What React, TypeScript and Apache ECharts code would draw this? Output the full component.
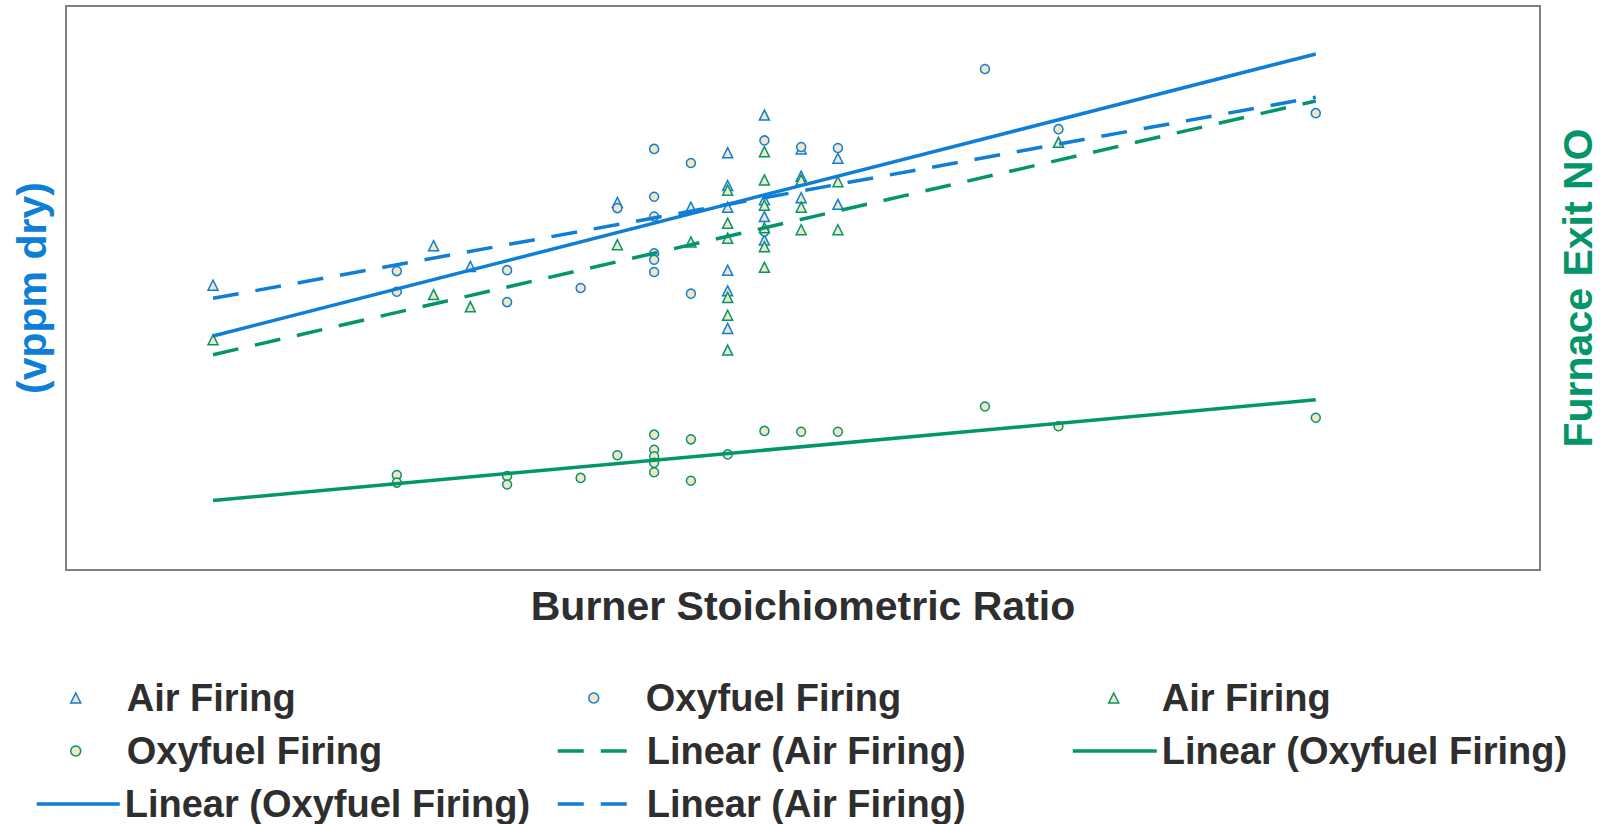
import React, { useEffect, useRef } from "react";
import * as echarts from "echarts";

// ---- data (x: burner stoichiometric ratio, y: furnace exit NO) ----
const blueAirFiring: [number, number][] = [
  [0.70, 303], [0.76, 345], [0.77, 323], [0.81, 391], [0.83, 386],
  [0.84, 444], [0.84, 409], [0.84, 386], [0.84, 319], [0.84, 297], [0.84, 257],
  [0.85, 484], [0.85, 394], [0.85, 376], [0.85, 351],
  [0.86, 448], [0.86, 419], [0.86, 396],
  [0.87, 438], [0.87, 389],
];
const blueOxyfuelFiring: [number, number][] = [
  [0.75, 318], [0.75, 296], [0.78, 319], [0.78, 285], [0.80, 300], [0.81, 385],
  [0.82, 448], [0.82, 397], [0.82, 376], [0.82, 337], [0.82, 330], [0.82, 317],
  [0.83, 433], [0.83, 294], [0.85, 457], [0.85, 360], [0.86, 450], [0.87, 449],
  [0.91, 533], [0.93, 469], [1.00, 486],
];
const greenAirFiring: [number, number][] = [
  [0.70, 245], [0.76, 293], [0.77, 280], [0.81, 346], [0.83, 349],
  [0.84, 404], [0.84, 369], [0.84, 353], [0.84, 290], [0.84, 271], [0.84, 234],
  [0.85, 445], [0.85, 415], [0.85, 388], [0.85, 364], [0.85, 344], [0.85, 322],
  [0.86, 415], [0.86, 386], [0.86, 362], [0.87, 413], [0.87, 362], [0.93, 455],
];
const greenOxyfuelFiring: [number, number][] = [
  [0.75, 101], [0.75, 93], [0.78, 100], [0.78, 91], [0.80, 98], [0.81, 122],
  [0.82, 144], [0.82, 128], [0.82, 121], [0.82, 114], [0.82, 104],
  [0.83, 139], [0.83, 95], [0.84, 123], [0.85, 148], [0.86, 147], [0.87, 147],
  [0.91, 174], [0.93, 153], [1.00, 162],
];
// trend lines (end points)
const blueOxyfuelTrend: [number, number][] = [[0.70, 249], [1.00, 549]];
const blueAirTrend: [number, number][] = [[0.70, 289], [1.00, 503]];
const greenAirTrend: [number, number][] = [[0.70, 229], [1.00, 499]];
const greenOxyfuelTrend: [number, number][] = [[0.70, 74], [1.00, 181]];

const xAxisName = "Burner Stoichiometric Ratio";
const leftAxisName = "(vppm dry)";
const rightAxisName = "Furnace Exit NO";

// ---- styles ----
const BLUE = "#0F7ED6";
const GREEN = "#05956A";
const FILL = "#F2E6C6";
const TEXT = "#2e2e2e";
const FONT = "'Liberation Sans', Arial, sans-serif";
const DASH = [26, 17];
const LINE_W = 3.5;

type LegendSpec = {
  name: string;
  kind: "triangle" | "circle" | "solid" | "dashed";
  color: string;
  left: number; // icon left edge
  width: number; // icon width
  textX: number; // where the label starts
  row: number;
};

const legendSpecs: LegendSpec[] = [
  { name: "Air Firing", kind: "triangle", color: BLUE, left: 70, width: 10, textX: 126, row: 0 },
  { name: "Oxyfuel Firing", kind: "circle", color: BLUE, left: 588, width: 10, textX: 645, row: 0 },
  { name: "Air Firing", kind: "triangle", color: GREEN, left: 1108, width: 10, textX: 1161, row: 0 },
  { name: "Oxyfuel Firing", kind: "circle", color: GREEN, left: 70, width: 10, textX: 126, row: 1 },
  { name: "Linear (Air Firing)", kind: "dashed", color: GREEN, left: 556, width: 84, textX: 645, row: 1 },
  { name: "Linear (Oxyfuel Firing)", kind: "solid", color: GREEN, left: 1071, width: 84, textX: 1160, row: 1 },
  { name: "Linear (Oxyfuel Firing)", kind: "solid", color: BLUE, left: 35, width: 83, textX: 123, row: 2 },
  { name: "Linear (Air Firing)", kind: "dashed", color: BLUE, left: 556, width: 84, textX: 645, row: 2 },
];
const rowCenters = [698, 751, 804];

function scatter(name: string, data: [number, number][], color: string, symbol: string, size: number, yAxisIndex: number) {
  return {
    type: "scatter",
    name,
    data,
    yAxisIndex,
    symbol,
    symbolSize: size,
    z: 2,
    itemStyle: { color: FILL, borderColor: color, borderWidth: 1.5, opacity: 1 },
  };
}

function trend(name: string, data: [number, number][], color: string, dashed: boolean, yAxisIndex: number) {
  return {
    type: "line",
    name,
    data,
    yAxisIndex,
    symbol: "none",
    showSymbol: false,
    z: 3,
    itemStyle: { color },
    lineStyle: { color, width: LINE_W, type: dashed ? DASH : "solid" },
  };
}

export default function App() {
  const ref = useRef<HTMLDivElement>(null);

  useEffect(() => {
    if (!ref.current) return;
    const chart = echarts.init(ref.current, undefined, { renderer: "svg" });

    const legends = legendSpecs.map((s) => {
      const isLine = s.kind === "solid" || s.kind === "dashed";
      const item: any = { name: s.name };
      if (isLine) {
        item.itemStyle = { opacity: 0, color: "transparent", borderWidth: 0 };
        item.lineStyle = { color: s.color, width: LINE_W, type: s.kind === "dashed" ? DASH : "solid", opacity: 1 };
      } else {
        item.icon = s.kind;
        item.itemStyle = { color: FILL, borderColor: s.color, borderWidth: 1.5, opacity: 1 };
      }
      const pad = Math.max(0, s.textX - (s.left + s.width + 5));
      return {
        show: true,
        orient: "horizontal",
        left: s.left,
        top: rowCenters[s.row] - 20,
        padding: 0,
        itemGap: 0,
        itemWidth: s.width,
        itemHeight: 10,
        symbolKeepAspect: true,
        selectedMode: false,
        data: [item],
        textStyle: {
          fontSize: 38,
          fontWeight: "bold",
          fontFamily: FONT,
          color: TEXT,
          lineHeight: 40,
          padding: [0, 0, 0, pad],
        },
      };
    });

    const hiddenAxis = {
      axisLine: { show: false },
      axisTick: { show: false },
      axisLabel: { show: false },
      splitLine: { show: false },
    };

    chart.setOption({
      animation: false,
      backgroundColor: "#ffffff",
      grid: {
        left: 66,
        top: 6,
        width: 1474,
        height: 564,
        show: true,
        borderColor: "#7f7f7f",
        borderWidth: 2,
        backgroundColor: "transparent",
      },
      legend: legends,
      xAxis: {
        type: "value",
        min: 0.66,
        max: 1.061,
        name: xAxisName,
        nameLocation: "middle",
        nameGap: 15,
        nameTextStyle: { fontSize: 41, fontWeight: "bold", fontFamily: FONT, color: TEXT, lineHeight: 41 },
        ...hiddenAxis,
      },
      yAxis: [
        {
          type: "value",
          position: "left",
          min: 0,
          max: 600,
          name: leftAxisName,
          nameLocation: "middle",
          nameRotate: 90,
          nameGap: 14,
          nameTextStyle: { fontSize: 41, fontWeight: "bold", fontFamily: FONT, color: BLUE, lineHeight: 41 },
          ...hiddenAxis,
        },
        {
          type: "value",
          position: "right",
          min: 0,
          max: 600,
          name: rightAxisName,
          nameLocation: "middle",
          nameRotate: 90,
          nameGap: 17,
          nameTextStyle: { fontSize: 41, fontWeight: "bold", fontFamily: FONT, color: GREEN, lineHeight: 41 },
          ...hiddenAxis,
        },
      ],
      series: [
        scatter("Air Firing", blueAirFiring, BLUE, "triangle", 10, 0),
        scatter("Oxyfuel Firing", blueOxyfuelFiring, BLUE, "circle", 9, 0),
        scatter("Air Firing", greenAirFiring, GREEN, "triangle", 10, 1),
        scatter("Oxyfuel Firing", greenOxyfuelFiring, GREEN, "circle", 9, 1),
        trend("Linear (Air Firing)", greenAirTrend, GREEN, true, 1),
        trend("Linear (Oxyfuel Firing)", greenOxyfuelTrend, GREEN, false, 1),
        trend("Linear (Oxyfuel Firing)", blueOxyfuelTrend, BLUE, false, 0),
        trend("Linear (Air Firing)", blueAirTrend, BLUE, true, 0),
      ],
    });

    return () => chart.dispose();
  }, []);

  return (
    <div
      ref={ref}
      style={{ position: "fixed", left: 0, top: 0, width: 1623, height: 824, background: "#fff" }}
    />
  );
}
